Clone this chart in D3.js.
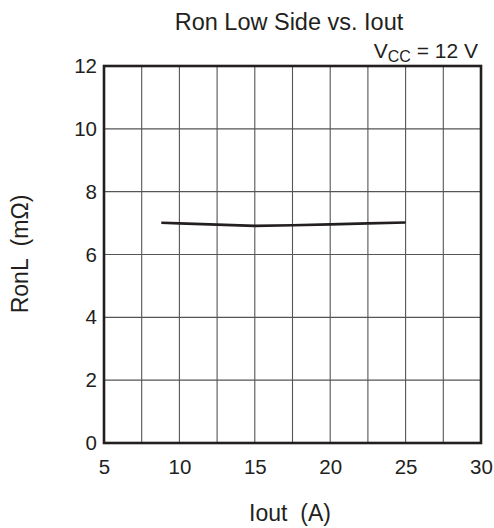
<!DOCTYPE html>
<html>
<head>
<meta charset="utf-8">
<script src="https://cdn.jsdelivr.net/npm/d3@7"></script>
<style>
  html, body { margin: 0; padding: 0; background: #fff; }
  svg { display: block; font-family: "Liberation Sans", Arial, Helvetica, sans-serif; }
</style>
</head>
<body>
<svg id="chart" width="494" height="528"></svg>
<script>
const iout = [8.8, 10, 12.5, 15, 17.5, 20, 22.5, 25];
const ronL = [7.01, 6.99, 6.95, 6.91, 6.93, 6.96, 6.99, 7.02];
const xTicks = [5, 10, 15, 20, 25, 30];
const yTicks = [0, 2, 4, 6, 8, 10, 12];
const xGrid = [7.5, 10, 12.5, 15, 17.5, 20, 22.5, 25, 27.5];
const yGrid = [2, 4, 6, 8, 10];

const W = 494, H = 528;
const m = { left: 104, right: 13, top: 66, bottom: 85 };
const svg = d3.select("#chart");
const x = d3.scaleLinear().domain([5, 30]).range([m.left, W - m.right]);
const y = d3.scaleLinear().domain([0, 12]).range([H - m.bottom, m.top]);

// gridlines
svg.append("g").selectAll("line").data(xGrid).join("line")
  .attr("x1", d => x(d)).attr("x2", d => x(d))
  .attr("y1", y(0)).attr("y2", y(12))
  .attr("stroke", "#555").attr("stroke-width", 1.1);
svg.append("g").selectAll("line").data(yGrid).join("line")
  .attr("x1", x(5)).attr("x2", x(30))
  .attr("y1", d => y(d)).attr("y2", d => y(d))
  .attr("stroke", "#555").attr("stroke-width", 1.1);

// frame
svg.append("rect")
  .attr("x", x(5)).attr("y", y(12))
  .attr("width", x(30) - x(5)).attr("height", y(0) - y(12))
  .attr("fill", "none").attr("stroke", "#231f20").attr("stroke-width", 2.6);

// axes (labels only)
const xAxis = svg.append("g").attr("transform", `translate(0,${y(0)})`)
  .call(d3.axisBottom(x).tickValues(xTicks).tickSize(0).tickPadding(16).tickFormat(d3.format("d")));
xAxis.select(".domain").remove();
xAxis.selectAll("text").attr("font-size", 20.5).attr("fill", "#231f20").attr("font-family", "Liberation Sans, Arial, sans-serif");

const yAxis = svg.append("g").attr("transform", `translate(${x(5)},0)`)
  .call(d3.axisLeft(y).tickValues(yTicks).tickSize(0).tickPadding(7).tickFormat(d3.format("d")));
yAxis.select(".domain").remove();
yAxis.selectAll("text").attr("font-size", 20.5).attr("fill", "#231f20").attr("font-family", "Liberation Sans, Arial, sans-serif");

// data line
const line = d3.line().x((d, i) => x(iout[i])).y(d => y(d));
svg.append("path").datum(ronL)
  .attr("d", line).attr("fill", "none")
  .attr("stroke", "#231f20").attr("stroke-width", 2.6);

// title
svg.append("text").attr("x", 289).attr("y", 30).attr("text-anchor", "middle")
  .attr("font-size", 23.5).attr("fill", "#231f20").text("Ron Low Side vs. Iout");

// Vcc label
const vcc = svg.append("text").attr("x", 478).attr("y", 58).attr("text-anchor", "end")
  .attr("font-size", 21).attr("fill", "#231f20");
vcc.append("tspan").text("V");
vcc.append("tspan").attr("font-size", 16).attr("dy", 4).text("CC");
vcc.append("tspan").attr("dy", -4).text(" = 12 V");

// axis titles
svg.append("text").attr("x", 290).attr("y", 521).attr("text-anchor", "middle")
  .attr("font-size", 23).attr("fill", "#231f20").attr("xml:space", "preserve").text("Iout  (A)");
svg.append("text").attr("transform", "translate(28,254) rotate(-90)").attr("text-anchor", "middle")
  .attr("font-size", 23).attr("fill", "#231f20").attr("xml:space", "preserve").text("RonL  (mΩ)");
</script>
</body>
</html>
